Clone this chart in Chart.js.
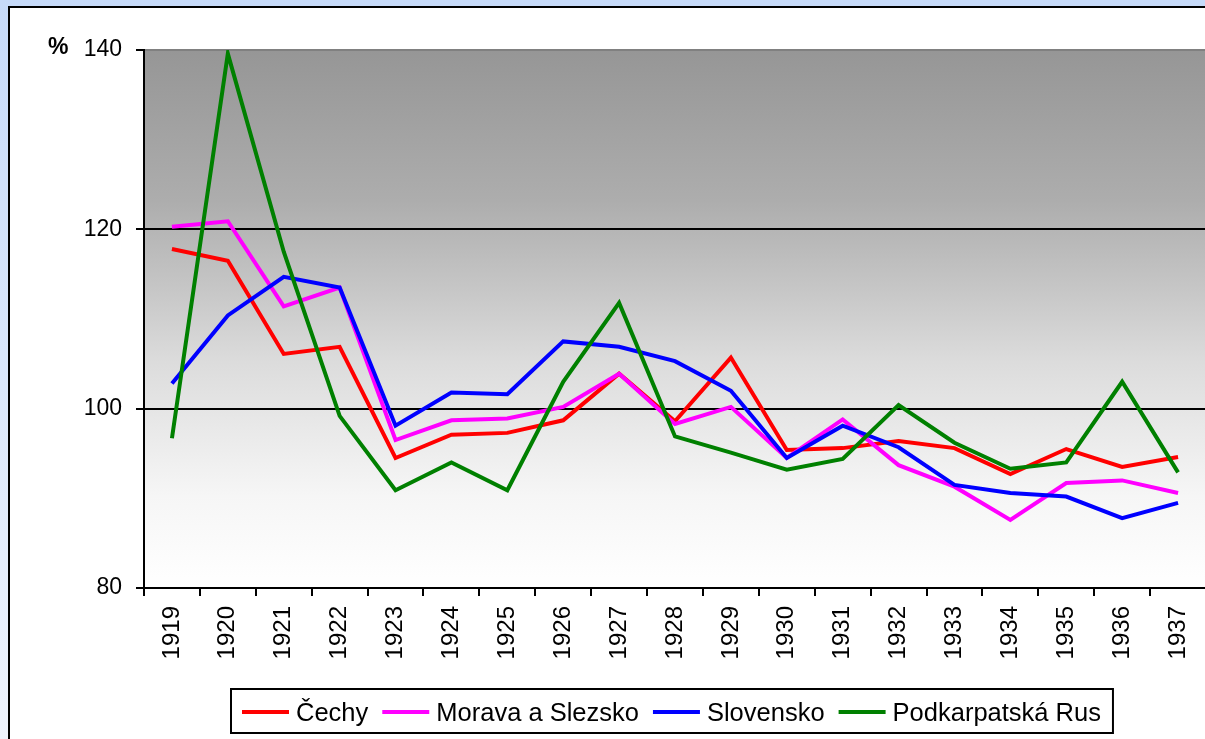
<!DOCTYPE html>
<html><head><meta charset="utf-8">
<script src="https://cdn.jsdelivr.net/npm/chart.js@4.4.1/dist/chart.umd.min.js"></script>
<style>
html,body{margin:0;padding:0;width:1205px;height:739px;overflow:hidden;}
body{background:linear-gradient(to bottom,#c6daf9 0%,#eef3fd 100%);position:relative;}
#panel{position:absolute;left:8px;top:6px;width:1300px;height:800px;border:2px solid #000;background:#fff;box-sizing:border-box;}
#wrap{position:absolute;left:0;top:0;width:1220px;height:739px;}
</style></head><body>
<div id="panel"></div>
<div id="wrap"><canvas id="c" width="1220" height="739"></canvas></div>
<script>
const years = ['1919','1920','1921','1922','1923','1924','1925','1926','1927','1928','1929','1930','1931','1932','1933','1934','1935','1936','1937'];
const cechy = [117.8,116.5,106.1,106.9,94.5,97.1,97.3,98.7,103.9,98.6,105.7,95.4,95.6,96.4,95.6,92.7,95.5,93.5,94.6];
const morava = [120.3,120.9,111.4,113.5,96.5,98.7,98.9,100.2,103.9,98.3,100.2,94.5,98.8,93.7,91.3,87.6,91.7,92.0,90.6];
const slovensko = [102.8,110.4,114.7,113.5,98.1,101.8,101.6,107.5,106.9,105.3,102.0,94.5,98.1,95.7,91.5,90.6,90.2,87.8,89.5];
const podkarpatska = [96.7,139.6,117.5,99.2,90.9,94.0,90.9,103.0,111.8,96.9,95.1,93.2,94.4,100.4,96.2,93.3,94.0,103.0,92.9];
const seriesNames = ['Čechy','Morava a Slezsko','Slovensko','Podkarpatská Rus'];
const yTicks = [80,100,120,140];

const FONT = '"Liberation Sans", Arial, Helvetica, sans-serif';

const bgPlugin = {
  id: 'bg',
  beforeDraw(chart) {
    const {ctx, chartArea: a} = chart;
    const g = ctx.createLinearGradient(0, a.top, 0, a.bottom);
    g.addColorStop(0, '#969696');
    g.addColorStop(0.28, '#adadad');
    g.addColorStop(0.43, '#c4c4c4');
    g.addColorStop(0.58, '#dcdcdc');
    g.addColorStop(0.83, '#f6f6f6');
    g.addColorStop(1, '#ffffff');
    ctx.save();
    ctx.fillStyle = g;
    ctx.fillRect(a.left, a.top, a.right - a.left, a.bottom - a.top);
    ctx.restore();
  }
};

const extrasPlugin = {
  id: 'extras',
  afterDraw(chart) {
    const ctx = chart.ctx;
    ctx.save();
    ctx.fillStyle = '#000';
    ctx.font = 'bold 23px ' + FONT;
    ctx.textBaseline = 'alphabetic';
    ctx.textAlign = 'left';
    ctx.fillText('%', 48, 54);
    // legend
    ctx.font = '25.5px ' + FONT;
    let x = 242;
    const base = 721, mid = 712;
    chart.data.datasets.forEach(ds => {
      ctx.strokeStyle = ds.borderColor;
      ctx.lineWidth = 4;
      ctx.beginPath();
      ctx.moveTo(x, mid);
      ctx.lineTo(x + 47, mid);
      ctx.stroke();
      x += 54;
      ctx.fillStyle = '#000';
      ctx.fillText(ds.label, x, base);
      x += ctx.measureText(ds.label).width + 14;
    });
    const right = x - 2;
    ctx.strokeStyle = '#000';
    ctx.lineWidth = 2;
    ctx.strokeRect(231, 689, right - 231, 44);
    ctx.restore();
  }
};

const colors = ['#ff0000','#ff00ff','#0000ff','#008000'];
const values = [cechy, morava, slovensko, podkarpatska];

new Chart(document.getElementById('c'), {
  type: 'line',
  data: {
    labels: years,
    datasets: values.map((v, i) => ({
      label: seriesNames[i],
      data: v,
      borderColor: colors[i],
      backgroundColor: colors[i],
      borderWidth: 4,
      pointRadius: 0,
      tension: 0,
      fill: false,
      order: 3 - i
    }))
  },
  options: {
    responsive: false,
    devicePixelRatio: 1,
    animation: false,
    layout: { padding: { left: 0, top: 50, right: 14, bottom: 0 } },
    plugins: { legend: { display: false }, tooltip: { enabled: false } },
    scales: {
      x: {
        offset: true,
        grid: { display: true, drawOnChartArea: false, drawTicks: true, tickLength: 8, color: '#000', lineWidth: 2, offset: true },
        border: { display: true, color: '#000', width: 2 },
        ticks: { autoSkip: false, minRotation: 90, maxRotation: 90, color: '#000', padding: 10, font: { family: FONT, size: 24 } },
        afterFit(s) { s.height = 151; }
      },
      y: {
        min: 80, max: 140,
        afterBuildTicks(s) { s.ticks = yTicks.map(v => ({ value: v })); },
        grid: {
          color: (c) => (c.tick && c.tick.value === 140) ? '#808080' : '#000',
          tickColor: '#000',
          lineWidth: 2,
          tickLength: 8,
          drawTicks: true
        },
        border: { display: true, color: '#000', width: 2 },
        ticks: { color: '#000', padding: 14, font: { family: FONT, size: 23 } },
        afterFit(s) { s.width = 144; }
      }
    }
  },
  plugins: [bgPlugin, extrasPlugin]
});
</script>
</body></html>
